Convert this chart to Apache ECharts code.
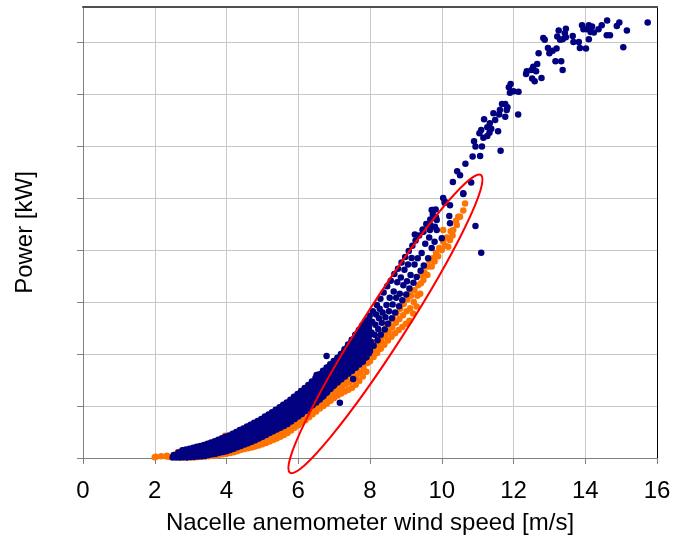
<!DOCTYPE html>
<html>
<head>
<meta charset="utf-8">
<title>Power curve</title>
<script src="https://cdn.jsdelivr.net/npm/echarts@6/dist/echarts.min.js"></script>
<style>
  html, body { margin: 0; padding: 0; background: #fff; }
  #chart { width: 673px; height: 536px; }
</style>
</head>
<body>
<div id="chart"></div>
<script>
// wind speed axis (m/s) and power axis (kW, no labels shown)
const xMin = 0, xMax = 16, xStep = 2
const yMin = 0, yMax = 2168, yStep = 250
const yTickValues = [0, 250, 500, 750, 1000, 1250, 1500, 1750, 2000]

// orange series (lower band)
const orangePoints = [
  [2.00,4],[2.03,6],[2.18,8],[2.33,7],[2.34,11],[2.42,5],[2.55,9],[2.61,19],[2.65,29],
  [2.70,3],[2.74,12],[2.80,2],[2.85,15],[2.90,4],[2.94,13],[3.00,2],[3.04,14],
  [3.10,3],[3.14,16],[3.20,5],[3.24,18],[3.26,54],[3.30,6],[3.34,20],[3.40,7],[3.44,22],
  [3.50,9],[3.54,25],[3.60,11],[3.64,28],[3.70,13],[3.74,31],[3.80,16],[3.84,34],
  [3.90,18],[3.94,38],[3.96,107],[4.00,20],[4.04,42],[4.10,24],[4.14,46],[4.20,28],[4.24,52],
  [4.30,33],[4.34,58],[4.40,38],[4.44,64],[4.50,43],[4.54,70],[4.60,47],[4.64,76],
  [4.70,50],[4.74,82],[4.80,55],[4.84,89],[4.90,60],[4.94,96],[5.00,66],[5.04,103],
  [5.10,72],[5.14,110],[5.20,79],[5.24,117],[5.30,86],[5.34,124],[5.40,94],[5.44,131],
  [5.50,102],[5.54,140],[5.60,110],[5.64,148],[5.70,120],[5.74,158],[5.80,132],[5.84,170],
  [5.90,145],[5.94,183],[6.00,157],[6.04,196],[6.10,170],[6.14,208],[6.20,182],[6.24,222],
  [6.30,196],[6.34,237],[6.40,210],[6.44,252],[6.50,224],[6.54,266],[6.60,238],[6.64,280],
  [6.70,250],[6.72,275],[6.74,298],[6.80,262],[6.82,288],[6.84,314],[6.90,275],[6.92,302],[6.94,330],
  [7.00,288],[7.02,316],[7.04,345],[7.10,300],[7.12,330],[7.14,360],[7.20,310],[7.22,342],[7.24,374],
  [7.30,320],[7.32,354],[7.34,388],[7.40,328],[7.42,364],[7.44,400],[7.50,338],[7.52,376],[7.54,414],
  [7.60,352],[7.62,392],[7.64,430],[7.70,370],[7.72,410],[7.74,448],[7.80,392],[7.82,432],[7.84,470],
  [7.90,415],[7.92,455],[7.94,492],[8.00,465],[8.02,500],[8.04,535],[8.10,485],[8.12,520],[8.14,556],
  [8.20,505],[8.22,542],[8.24,578],[8.30,525],[8.32,563],[8.34,600],[8.40,545],[8.42,585],[8.44,624],
  [8.50,565],[8.52,606],[8.54,648],[8.60,583],[8.62,628],[8.64,672],[8.70,600],[8.72,650],[8.74,696],
  [8.80,615],[8.82,668],[8.84,718],[8.90,630],[8.92,686],[8.94,740],[9.00,645],[9.02,705],[9.04,762],
  [9.10,660],[9.12,720],[9.14,780],[9.11,808],[9.20,695],[9.22,750],[9.24,806],
  [9.30,728],[9.32,780],[9.34,830],[9.40,790],[9.42,840],[9.44,880],
  [9.49,856],[9.52,890],[9.55,920],[9.60,880],[9.63,920],[9.65,950],[9.72,920],[9.75,960],
  [9.80,945],[9.84,985],[9.90,970],[9.93,1010],[10.00,1000],[10.04,1040],[10.04,1096],
  [10.10,1020],[10.14,1060],[10.18,1016],[10.23,1048],[10.25,1090],[10.30,1070],[10.32,1096],
  [10.40,1140],[10.42,1120],[10.46,1160],[10.51,1160],[10.60,1190],[10.65,1224]
]

// extra orange readings between the ones above (4 - 6.7 m/s)
const orangeFill = [
  [4.07,31],[4.17,35],[4.27,40],[4.37,45],[4.47,51],[4.57,56],[4.67,61],[4.77,66],[4.87,72],
  [4.97,78],[5.07,84],[5.17,91],[5.27,98],[5.37,105],[5.47,112],[5.57,121],[5.67,129],[5.77,139],
  [5.87,151],[5.97,164],[6.07,176],[6.17,189],[6.27,202],[6.37,216],[6.47,231],[6.57,245],[6.67,259]
]

// navy series, dense band up to ~10 m/s
const navyBand = [
  [2.50,2],[2.53,14],[2.60,3],[2.63,16],[2.66,27],[2.70,2],[2.72,14],[2.75,26],[2.77,37],
  [2.80,4],[2.82,18],[2.85,31],[2.87,41],[2.90,3],[2.92,19],[2.95,33],[2.97,45],
  [3.00,5],[3.02,21],[3.05,36],[3.07,49],[3.10,6],[3.12,23],[3.15,40],[3.17,54],
  [3.20,7],[3.22,25],[3.25,43],[3.27,58],[3.30,8],[3.32,27],[3.35,46],[3.37,63],
  [3.40,10],[3.42,30],[3.45,50],[3.47,68],[3.50,14],[3.52,35],[3.55,56],[3.57,75],
  [3.60,18],[3.62,40],[3.65,61],[3.67,81],[3.70,21],[3.72,44],[3.75,67],[3.77,88],
  [3.80,25],[3.82,49],[3.85,73],[3.87,95],[3.90,29],[3.92,54],[3.95,79],[3.97,102],
  [4.00,32],[4.02,58],[4.04,84],[4.07,108],[4.10,39],[4.12,66],[4.14,93],[4.17,117],
  [4.20,45],[4.22,73],[4.24,100],[4.27,125],[4.30,52],[4.32,80],[4.34,108],[4.37,134],
  [4.40,58],[4.42,87],[4.44,116],[4.47,142],[4.50,65],[4.52,94],[4.54,124],[4.57,151],
  [4.60,71],[4.62,101],[4.64,131],[4.67,160],[4.70,78],[4.72,109],[4.74,140],[4.77,169],
  [4.80,85],[4.82,117],[4.84,149],[4.87,178],[4.90,94],[4.92,126],[4.94,158],[4.97,188],
  [5.00,102],[5.02,135],[5.04,168],[5.07,199],[5.10,111],[5.12,144],[5.14,178],[5.17,209],
  [5.20,120],[5.22,154],[5.24,188],[5.27,220],[5.30,129],[5.32,164],[5.34,199],[5.37,232],
  [5.40,137],[5.42,164],[5.44,191],[5.46,218],[5.48,244],[5.50,146],[5.52,174],[5.54,202],[5.56,230],[5.58,256],
  [5.60,154],[5.62,183],[5.64,212],[5.66,241],[5.68,267],[5.70,163],[5.72,193],[5.74,223],[5.76,253],[5.78,280],
  [5.80,176],[5.82,206],[5.84,236],[5.86,266],[5.88,294],[5.90,188],[5.92,219],[5.94,250],[5.96,281],[5.98,308],
  [6.00,200],[6.02,231],[6.04,262],[6.06,293],[6.08,322],[6.10,212],[6.12,244],[6.14,276],[6.16,308],[6.18,336],
  [6.20,226],[6.22,258],[6.24,290],[6.26,322],[6.28,351],[6.30,240],[6.32,273],[6.34,306],[6.36,339],[6.38,368],
  [6.40,253],[6.42,287],[6.44,321],[6.46,355],[6.48,385],
  [6.50,267],[6.52,295],[6.54,323],[6.56,351],[6.58,379],[6.59,402],
  [6.60,281],[6.62,309],[6.64,338],[6.66,366],[6.68,394],[6.69,419],
  [6.70,298],[6.72,326],[6.74,354],[6.76,382],[6.78,410],[6.79,435],
  [6.80,316],[6.82,344],[6.84,372],[6.86,399],[6.88,427],[6.89,451],
  [6.90,333],[6.92,360],[6.94,388],[6.96,415],[6.98,442],[6.99,466],
  [7.00,350],[7.02,377],[7.04,404],[7.06,431],[7.08,458],[7.09,482],
  [7.10,364],[7.12,392],[7.14,420],[7.16,448],[7.18,476],[7.19,500],
  [7.20,378],[7.22,408],[7.24,438],[7.26,468],[7.28,497],[7.29,523],
  [7.30,392],[7.32,424],[7.34,455],[7.36,487],[7.38,518],[7.39,546],
  [7.40,406],[7.42,440],[7.44,473],[7.46,506],[7.48,539],[7.49,569],
  [7.50,420],[7.52,455],[7.54,490],[7.56,525],[7.58,560],[7.59,592],
  [7.60,434],[7.62,470],[7.64,507],[7.66,543],[7.68,580],[7.69,615],
  [7.70,449],[7.72,487],[7.74,525],[7.76,563],[7.78,601],[7.79,638],
  [7.80,463],[7.82,503],[7.84,543],[7.86,583],[7.88,623],[7.89,661],
  [7.90,484],[7.92,524],[7.94,565],[7.96,605],[7.98,645],[7.99,684],
  [8.00,514],[8.02,560],[8.04,603],[8.06,655],[8.08,706],[8.10,540],[8.13,592],[8.15,640],[8.17,690],[8.19,735],
  [8.21,566],[8.23,620],[8.25,672],[8.27,718],[8.29,765],[8.30,592],[8.33,650],[8.35,700],[8.38,796],
  [8.41,618],[8.43,676],[8.46,735],[8.48,826],[8.50,645],[8.53,705],[8.55,770],[8.58,852],
  [8.61,672],[8.63,738],[8.66,800],[8.68,884],[8.70,700],[8.73,770],[8.76,845],[8.78,910],
  [8.81,730],[8.83,790],[8.86,868],[8.88,940],[8.90,758],[8.93,830],[8.96,905],[8.98,966],
  [9.01,786],[9.03,850],[9.06,930],[9.08,995],[9.10,815],[9.13,880],[9.16,962],[9.18,1020],
  [9.21,842],[9.24,930],[9.27,1045],[9.30,870],[9.33,960],[9.37,1070],
  [9.41,900],[9.44,985],[9.47,1098],[9.50,925],[9.54,1030],[9.57,1125],
  [9.62,960],[9.65,1060],[9.68,1146],[9.72,1010],[9.75,1170],[9.80,1040],[9.83,1195],
  [6.79,490],[6.51,399],[7.16,266],[7.53,380]
]

// extra navy readings between the ones above (3 - 8 m/s)
const navyFill = [
  [3.06,13],[3.06,28],[3.06,43],[3.16,14],[3.16,31],[3.16,47],[3.26,16],[3.26,34],[3.26,50],
  [3.36,17],[3.36,36],[3.36,54],[3.46,20],[3.46,40],[3.46,59],[3.56,24],[3.56,45],[3.56,65],
  [3.66,29],[3.66,50],[3.66,71],[3.76,32],[3.76,55],[3.76,77],[3.86,37],[3.86,61],[3.86,84],
  [3.96,41],[3.96,66],[3.96,90],[4.06,45],[4.06,71],[4.06,96],[4.16,52],[4.16,79],[4.16,105],
  [4.26,59],[4.26,86],[4.26,112],[4.36,66],[4.36,94],[4.36,121],[4.46,72],[4.46,101],[4.46,129],
  [4.56,79],[4.56,109],[4.56,137],[4.66,86],[4.66,116],[4.66,145],[4.76,93],[4.76,124],[4.76,154],
  [4.86,101],[4.86,133],[4.86,163],[4.96,110],[4.96,142],[4.96,173],[5.06,118],[5.06,151],[5.06,183],
  [5.16,127],[5.16,161],[5.16,193],[5.26,137],[5.26,171],[5.26,204],[5.36,146],[5.36,181],[5.36,215],
  [5.47,150],[5.47,177],[5.47,204],[5.47,231],[5.57,160],[5.57,188],[5.57,216],[5.57,243],
  [5.67,168],[5.67,197],[5.67,226],[5.67,254],[5.77,178],[5.77,208],[5.77,238],[5.77,266],
  [5.87,191],[5.87,221],[5.87,251],[5.87,280],[5.97,203],[5.97,234],[5.97,265],[5.97,294],
  [6.07,215],[6.07,246],[6.07,277],[6.07,307],[6.17,228],[6.17,260],[6.17,292],[6.17,322],
  [6.27,242],[6.27,274],[6.27,306],[6.27,336],[6.37,256],[6.37,289],[6.37,322],[6.37,353],
  [6.47,270],[6.47,304],[6.47,338],[6.47,370],
  [6.57,281],[6.57,309],[6.57,337],[6.57,365],[6.57,390],[6.67,295],[6.67,323],[6.67,352],[6.67,380],[6.67,406],
  [6.77,312],[6.77,340],[6.77,368],[6.77,396],[6.77,422],[6.87,330],[6.87,358],[6.87,386],[6.87,413],[6.87,439],
  [6.97,346],[6.97,374],[6.97,401],[6.97,428],[6.97,454],[7.07,363],[7.07,390],[7.07,417],[7.07,444],[7.07,470],
  [7.17,378],[7.17,406],[7.17,434],[7.17,462],[7.17,488],[7.27,393],[7.27,423],[7.27,453],[7.27,482],[7.27,510],
  [7.37,408],[7.37,440],[7.37,471],[7.37,502],[7.37,532],[7.47,423],[7.47,456],[7.47,490],[7.47,522],[7.47,554],
  [7.57,437],[7.57,472],[7.57,507],[7.57,542],[7.57,576],[7.67,452],[7.67,488],[7.67,525],[7.67,561],[7.67,597],
  [7.77,468],[7.77,506],[7.77,544],[7.77,582],[7.77,619],[7.87,483],[7.87,523],[7.87,563],[7.87,603],[7.87,642],
  [7.97,504],[7.97,544],[7.97,585],[7.97,625],[7.97,664]
]

// navy series, sparse part above ~10 m/s
const navyUpper = [
  [15.74,2093],[15.16,2055],[15.06,1975],[14.95,2093],[14.88,2077],[14.61,2103],[14.69,2032],
  [14.60,2032],[14.46,2080],[14.37,2061],[14.24,2045],[14.15,2048],[14.19,2074],[14.10,2080],
  [14.04,2061],[13.95,2061],[13.91,2080],[14.10,2013],[14.02,1968],[13.85,1971],[13.82,2000],
  [13.67,2000],[13.65,2029],[13.46,2023],[13.43,2042],[13.37,2013],[13.30,2010],[13.22,2026],
  [13.26,2055],[13.46,2064],[13.20,1968],[13.09,1958],[12.96,1971],[13.00,1946],[12.87,2010],
  [12.83,2019],[12.70,1946],[13.17,1907],[13.33,1907],[13.37,1865],[12.66,1894],[12.55,1881],
  [12.63,1859],[12.50,1865],[12.37,1859],[12.35,1846],[12.52,1824],[12.59,1811],[12.78,1827],
  [11.92,1798],[11.87,1782],[12.00,1763],[12.14,1760],[11.90,1756],[11.77,1702],[11.83,1686],
  [11.68,1702],[11.62,1673],[11.81,1673],[11.77,1641],[12.13,1651],[11.60,1651],[11.44,1657],
  [11.49,1625],[11.34,1609],[11.27,1590],[11.18,1628],[11.10,1577],[11.05,1561],[11.16,1539],
  [11.27,1548],[11.33,1564],[11.38,1583],[11.57,1571],[11.64,1477],[10.90,1523],[10.94,1497],
  [11.12,1497],[11.07,1452],[10.86,1449],[10.66,1414],[10.43,1378],[10.51,1359],[10.31,1327],
  [10.82,1324],[10.60,1269],[10.04,1250],[10.08,1227],[9.75,1192],[9.84,1157],[9.69,1119],
  [9.47,1096],[9.25,1074],[10.21,1163],[10.23,1215],[10.94,1115],[11.10,987],[9.86,1096],
  [10.23,1128],[9.86,1144],[9.81,1112],[10.00,1056],[9.67,1096],[9.49,1088],[10.09,1232],
  [9.72,1192],[10.60,1273]
]

// red ellipse: the two tips of its long axis (m/s, kW)
const ellipseTips = [[5.77, -71, 11.09, 1361]]
const ellipseHalfWidth = 21

const font = 'Liberation Sans, Arial, sans-serif'

let chart = echarts.init(document.getElementById('chart'))

function drawEllipse(params, api) {
  const p1 = api.coord([api.value(0), api.value(1)])
  const p2 = api.coord([api.value(2), api.value(3)])
  const dx = p2[0] - p1[0]
  const dy = p2[1] - p1[1]
  return {
    type: 'ellipse',
    x: (p1[0] + p2[0]) / 2,
    y: (p1[1] + p2[1]) / 2,
    rotation: Math.atan2(-dy, dx),
    shape: { cx: 0, cy: 0, rx: Math.sqrt(dx * dx + dy * dy) / 2, ry: ellipseHalfWidth },
    style: { fill: null, stroke: '#ff0000', lineWidth: 2 }
  }
}

const option = {
  animation: false,
  backgroundColor: '#fff',
  grid: { left: 83, right: 16, top: 7, bottom: 78, outerBoundsMode: 'none' },
  xAxis: [{
    type: 'value', min: xMin, max: xMax, interval: xStep,
    name: 'Nacelle anemometer wind speed [m/s]',
    nameLocation: 'middle', nameGap: 53,
    nameTextStyle: { fontSize: 24, color: '#000', fontFamily: font },
    axisLine: { onZero: false, lineStyle: { color: '#808080', width: 1 } },
    axisTick: { show: true, length: 6, lineStyle: { color: '#808080' } },
    axisLabel: { fontSize: 24, color: '#000', fontFamily: font, margin: 21 },
    splitLine: { show: true, lineStyle: { color: '#c8c8c8', width: 1 } }
  }, {
    type: 'value', position: 'top', min: xMin, max: xMax,
    axisLine: { show: true, onZero: false, lineStyle: { color: '#505050', width: 2 } },
    axisTick: { show: false }, axisLabel: { show: false }, splitLine: { show: false }
  }],
  yAxis: [{
    type: 'value', min: yMin, max: yMax, interval: yStep,
    name: 'Power [kW]',
    nameLocation: 'middle', nameGap: 46,
    nameTextStyle: { fontSize: 24, color: '#000', fontFamily: font },
    axisLine: { show: true, onZero: false, lineStyle: { color: '#808080', width: 1 } },
    axisTick: { show: true, length: 6, customValues: yTickValues, lineStyle: { color: '#808080' } },
    axisLabel: { show: false },
    splitLine: { show: true, lineStyle: { color: '#c8c8c8', width: 1 } }
  }, {
    type: 'value', position: 'right', min: yMin, max: yMax,
    axisLine: { show: true, onZero: false, lineStyle: { color: '#000', width: 1 } },
    axisTick: { show: false }, axisLabel: { show: false }, splitLine: { show: false }
  }],
  series: [{
    type: 'scatter',
    data: orangePoints.concat(orangeFill),
    symbolSize: 6.5,
    itemStyle: { color: '#ff7300', opacity: 1 },
    silent: true
  }, {
    type: 'scatter',
    data: navyBand.concat(navyFill, navyUpper),
    symbolSize: 6.5,
    itemStyle: { color: '#000080', opacity: 1 },
    silent: true
  }, {
    type: 'custom',
    data: ellipseTips,
    encode: { x: [0, 2], y: [1, 3] },
    renderItem: drawEllipse,
    clip: false,
    silent: true,
    z: 10
  }]
}

chart.setOption(option)
</script>
</body>
</html>
